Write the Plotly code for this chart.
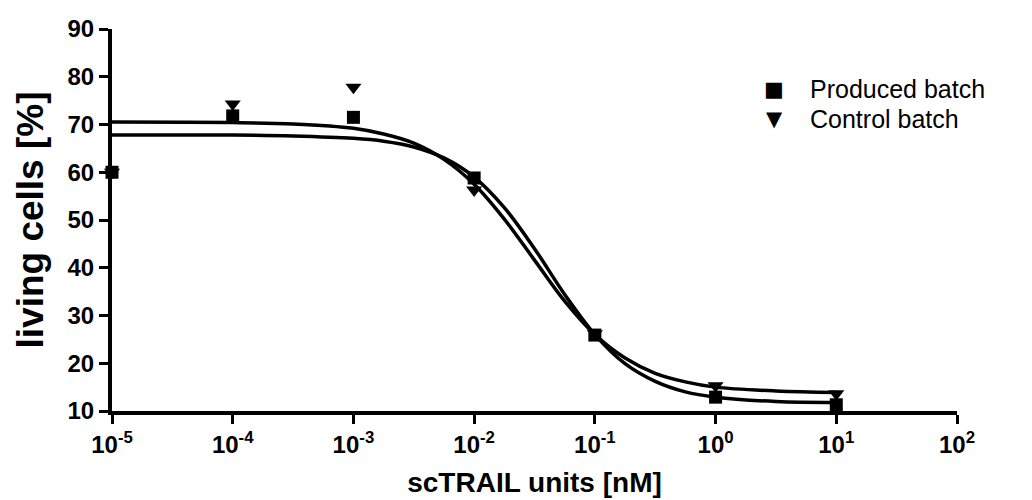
import plotly.graph_objects as go

# ---- data ----
concentration_nM = [1e-5, 1e-4, 1e-3, 1e-2, 1e-1, 1, 10]
produced_batch = [60, 71.8, 71.5, 58.8, 25.9, 12.9, 11.3]
control_batch = [60, 74.3, 77.8, 56.3, 26.2, 15.3, 13.6]

# fitted dose-response curves
fit_log_conc = [-5, -4, -3.5, -3, -2.75, -2.5, -2.25, -2, -1.75, -1.5,
                -1.25, -1, -0.75, -0.5, -0.25, 0, 0.5, 1]
control_fit = [70.5, 70.4, 70.1, 69.2, 68.0, 66.1, 62.7, 57.5, 50.2, 41.6,
               33.0, 26.0, 21.1, 17.9, 16.1, 15.0, 14.2, 13.9]
produced_fit = [67.8, 67.8, 67.6, 67.1, 66.5, 65.3, 63.0, 59.0, 52.6, 44.0,
                34.4, 26.0, 19.9, 16.2, 14.0, 12.9, 12.0, 11.8]

x_tick_exponents = [-5, -4, -3, -2, -1, 0, 1, 2]
y_ticks = [10, 20, 30, 40, 50, 60, 70, 80, 90]

series_names = ["Produced batch", "Control batch"]

FONT = "Liberation Sans, Arial, sans-serif"

fig = go.Figure()

fit_x = [10 ** v for v in fit_log_conc]
for yfit in (produced_fit, control_fit):
    fig.add_trace(go.Scatter(
        x=fit_x, y=yfit, mode="lines", line=dict(color="black", width=3.5, shape="spline"),
        showlegend=False, hoverinfo="skip", cliponaxis=False))

fig.add_trace(go.Scatter(
    x=concentration_nM, y=control_batch, mode="markers", name=series_names[1],
    marker=dict(symbol="triangle-down", size=14, color="black"),
    showlegend=False, cliponaxis=False))
fig.add_trace(go.Scatter(
    x=concentration_nM, y=produced_batch, mode="markers", name=series_names[0],
    marker=dict(symbol="square", size=13, color="black"),
    showlegend=False, cliponaxis=False))

L, R, T, B = 112, 75, 29, 89
W, H = 1032, 500
pw, ph = W - L - R, H - T - B

def px(xp):
    return (xp - L) / pw

def py(yp):
    return (H - B - yp) / ph

# legend drawn as annotations for tight spacing
legend_rows = [("■", series_names[0], 89), ("▼", series_names[1], 119)]
for glyph, label, yy in legend_rows:
    fig.add_annotation(xref="paper", yref="paper", x=px(774), y=py(yy), text=glyph,
                       showarrow=False, xanchor="center", yanchor="middle",
                       font=dict(family="DejaVu Sans", size=21, color="black"))
    fig.add_annotation(xref="paper", yref="paper", x=px(808), y=py(yy), text=label,
                       showarrow=False, xanchor="left", yanchor="middle",
                       font=dict(family=FONT, size=25, color="black"))

fig.update_layout(
    width=W, height=H,
    margin=dict(l=L, r=R, t=T, b=B, autoexpand=False),
    paper_bgcolor="white", plot_bgcolor="white",
    showlegend=False,
    font=dict(family=FONT, color="black"),
)

fig.update_xaxes(
    type="log", range=[-5, 2],
    tickvals=[10 ** e for e in x_tick_exponents],
    ticktext=[f"10<sup>{e}</sup>" for e in x_tick_exponents],
    tickfont=dict(family=FONT, size=24, color="black", weight="bold"),
    showline=True, linecolor="black", linewidth=4,
    ticks="outside", ticklen=9, tickwidth=3, tickcolor="black",
    showgrid=False, zeroline=False,
    title=dict(text="scTRAIL units [nM]", standoff=17,
               font=dict(family=FONT, size=28, color="black", weight="bold")),
)
fig.update_yaxes(
    range=[10, 90], tickvals=y_ticks,
    tickfont=dict(family=FONT, size=24, color="black", weight="bold"),
    showline=True, linecolor="black", linewidth=4,
    ticks="outside", ticklen=9, tickwidth=3, tickcolor="black",
    showgrid=False, zeroline=False,
    title=dict(text="living cells [%]", standoff=14,
               font=dict(family=FONT, size=37, color="black", weight="bold")),
)

fig.write_html("out.html")
